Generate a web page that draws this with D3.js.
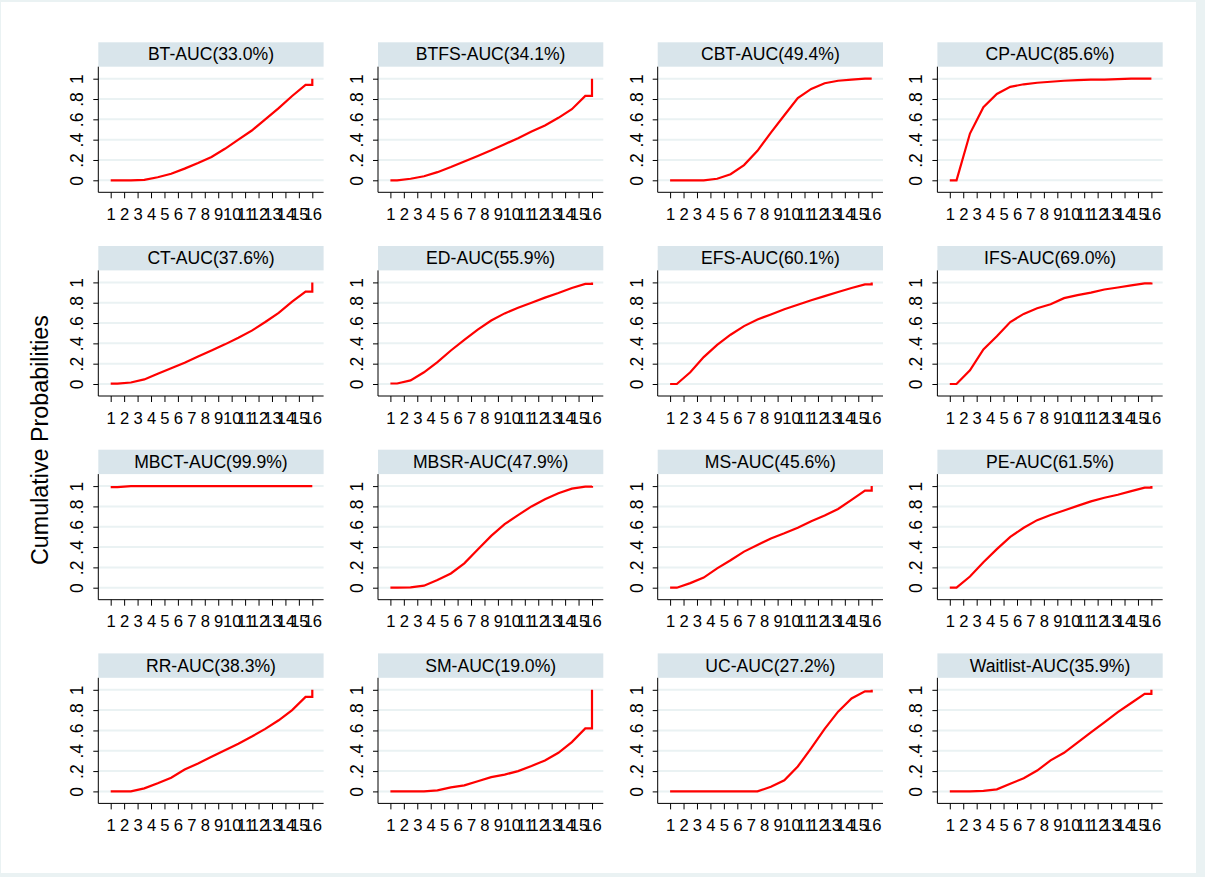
<!DOCTYPE html>
<html>
<head>
<meta charset="utf-8">
<script src="https://cdn.jsdelivr.net/npm/d3@7"></script>
<style>
body{margin:0;background:#fff}
text{font-family:"Liberation Sans",Arial,sans-serif;fill:#000}
</style>
</head>
<body>
<script>
const treatments=["BT","BTFS","CBT","CP","CT","ED","EFS","IFS","MBCT","MBSR","MS","PE","RR","SM","UC","Waitlist"]
const auc=["33.0","34.1","49.4","85.6","37.6","55.9","60.1","69.0","99.9","47.9","45.6","61.5","38.3","19.0","27.2","35.9"]
const ranks=[1,2,3,4,5,6,7,8,9,10,11,12,13,14,15,16]
const yTicks=[0,0.2,0.4,0.6,0.8,1]
const yTickLabels=["0",".2",".4",".6",".8","1"]

// cumulative probability of being ranked k or better, k = 1..15 (rank 16 is always 1)
const cumBT=[0,0,0.005,0.03,0.065,0.115,0.17,0.23,0.31,0.40,0.49,0.60,0.71,0.83,0.94]
const cumBTFS=[0,0.015,0.04,0.08,0.13,0.185,0.24,0.295,0.355,0.415,0.48,0.54,0.615,0.70,0.83]
const cumCBT=[0,0,0,0.015,0.06,0.15,0.29,0.47,0.64,0.81,0.90,0.955,0.98,0.99,1.0]
const cumCP=[0,0.46,0.72,0.85,0.92,0.945,0.96,0.97,0.98,0.985,0.99,0.99,0.995,1,1]
const cumCT=[0.003,0.015,0.045,0.10,0.155,0.21,0.27,0.33,0.39,0.455,0.525,0.61,0.70,0.81,0.91]
const cumED=[0.005,0.035,0.115,0.215,0.33,0.435,0.535,0.625,0.695,0.75,0.80,0.85,0.895,0.945,0.985]
const cumEFS=[0,0.115,0.265,0.385,0.485,0.57,0.635,0.685,0.735,0.78,0.825,0.865,0.905,0.945,0.98]
const cumIFS=[0,0.135,0.34,0.47,0.61,0.69,0.745,0.785,0.845,0.875,0.90,0.93,0.95,0.97,0.99]
const cumMBCT=[0.99,1,1,1,1,1,1,1,1,1,1,1,1,1,1]
const cumMBSR=[0,0.003,0.02,0.075,0.14,0.24,0.375,0.51,0.625,0.715,0.80,0.87,0.93,0.975,0.995]
const cumMS=[0,0.045,0.10,0.19,0.27,0.355,0.42,0.485,0.535,0.59,0.655,0.71,0.775,0.865,0.955]
const cumPE=[0,0.11,0.25,0.38,0.5,0.59,0.665,0.715,0.76,0.805,0.85,0.885,0.915,0.95,0.985]
const cumRR=[0,0,0.03,0.08,0.135,0.215,0.275,0.34,0.405,0.47,0.54,0.615,0.70,0.80,0.93]
const cumSM=[0,0,0,0.01,0.04,0.06,0.10,0.14,0.165,0.20,0.25,0.305,0.38,0.485,0.62]
const cumUC=[0,0,0,0,0,0,0,0.045,0.11,0.245,0.425,0.615,0.785,0.915,0.985]
const cumWaitlist=[0,0,0.005,0.02,0.075,0.13,0.205,0.305,0.38,0.48,0.58,0.68,0.78,0.87,0.96]

const series=[cumBT,cumBTFS,cumCBT,cumCP,cumCT,cumED,cumEFS,cumIFS,
              cumMBCT,cumMBSR,cumMS,cumPE,cumRR,cumSM,cumUC,cumWaitlist]

const width=1205
const height=877
const colLeft=98.3, colStep=279.7
const rowTop=42.3, rowStep=203.7
const panelW=225.3, stripH=24.4, plotH=125.6

const svg=d3.select("body").append("svg")
            .attr("width",width)
            .attr("height",height)

svg.append("rect").attr("width",width).attr("height",height).attr("fill","#eaf2f3")
svg.append("rect").attr("x",1).attr("y",2).attr("width",1195).attr("height",871).attr("fill","#fff")

const x=d3.scaleLinear().domain([1,16]).range([12.4,214])
const y=d3.scaleLinear().domain([0,1]).range([plotH-12,12])

// stata style: value k drawn at k+.5, flat at both ends, then the jump to 1 at the last rank
const toPoints=c=>[[ranks[0],c[0]]]
      .concat(c.map((v,i)=>[ranks[i]+0.5,v]))
      .concat([[ranks[15],c[14]],[ranks[15],1]])

const line=d3.line().x(d=>x(d[0])).y(d=>y(d[1]))

treatments.forEach((name,i)=>{
  const col=i%4, row=Math.floor(i/4)
  const g=svg.append("g")
             .attr("transform","translate("+(colLeft+col*colStep)+","+(rowTop+row*rowStep)+")")

  g.append("rect")
   .attr("width",panelW)
   .attr("height",stripH)
   .attr("fill","#d9e5eb")

  g.append("text")
   .attr("x",panelW/2)
   .attr("y",18.2)
   .attr("text-anchor","middle")
   .attr("font-size",17.6)
   .text(name+"-AUC("+auc[i]+"%)")

  const p=g.append("g").attr("transform","translate(0,"+stripH+")")

  p.selectAll(".grid")
   .data(yTicks)
   .enter()
   .append("line")
   .attr("class","grid")
   .attr("x1",0).attr("x2",panelW)
   .attr("y1",d=>y(d)).attr("y2",d=>y(d))
   .attr("stroke","#eaf2f3")
   .attr("stroke-width",2)

  const ya=p.append("g")
            .call(d3.axisLeft(y).tickValues(yTicks).tickSize(5).tickSizeOuter(0)
                    .tickFormat((d,j)=>yTickLabels[j]))
  ya.select(".domain").remove()
  ya.selectAll("text")
    .attr("x",0).attr("dy",null)
    .attr("text-anchor","middle")
    .attr("font-size",17.5)
    .attr("transform","translate(-15,0) rotate(-90)")

  const xa=p.append("g")
            .attr("transform","translate(0,"+plotH+")")
            .call(d3.axisBottom(x).tickValues(ranks).tickSize(6).tickPadding(10).tickSizeOuter(0))
  xa.select(".domain").remove()
  xa.selectAll("text").attr("font-size",16.6)

  p.append("line").attr("x1",0).attr("x2",0).attr("y1",0).attr("y2",plotH).attr("stroke","#000")
  p.append("line").attr("x1",0).attr("x2",panelW).attr("y1",plotH).attr("y2",plotH).attr("stroke","#000")

  p.append("path")
   .datum(toPoints(series[i]))
   .attr("d",line)
   .attr("fill","none")
   .attr("stroke","#ff0000")
   .attr("stroke-width",2.2)
})

svg.append("text")
   .attr("transform","translate(48,440) rotate(-90)")
   .attr("text-anchor","middle")
   .attr("font-size",23.3)
   .text("Cumulative Probabilities")
</script>
</body>
</html>
